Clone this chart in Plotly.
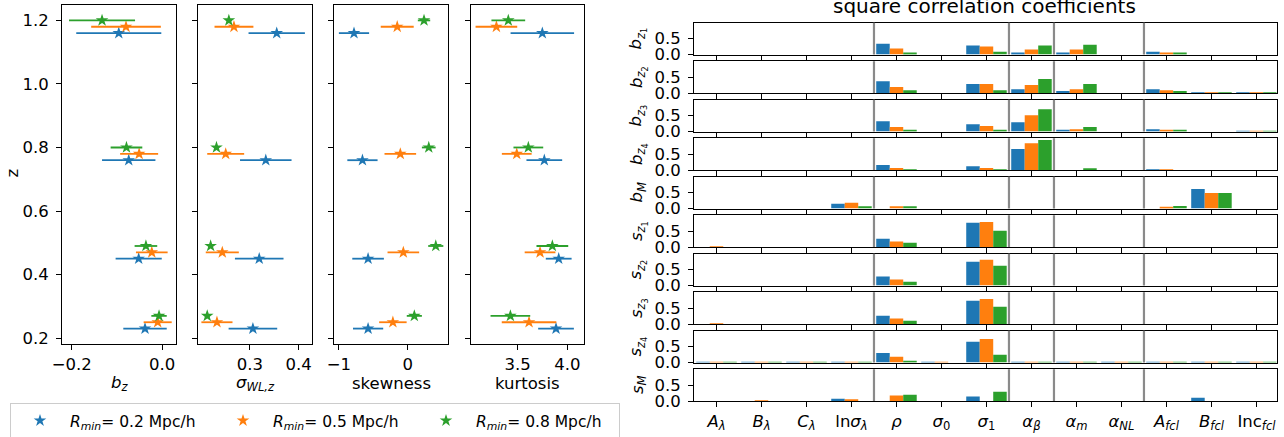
import plotly.graph_objects as go

W, H = 1284, 437
FONT = "DejaVu Sans"
FS = 16.5
C = ["#1f77b4", "#ff7f0e", "#2ca02c"]

# ---------------- left panel data ----------------
series_names = ["<i>R</i><sub><i>min</i></sub>= 0.2 Mpc/h",
                "<i>R</i><sub><i>min</i></sub>= 0.5 Mpc/h",
                "<i>R</i><sub><i>min</i></sub>= 0.8 Mpc/h"]
z_02 = [1.16, 0.76, 0.45, 0.23]
z_05 = [1.18, 0.78, 0.47, 0.25]
z_08 = [1.20, 0.80, 0.49, 0.27]

bz_02 = [-0.096, -0.074, -0.052, -0.038]
bz_02_err = [0.094, 0.059, 0.051, 0.048]
bz_05 = [-0.080, -0.051, -0.023, -0.010]
bz_05_err = [0.077, 0.042, 0.035, 0.031]
bz_08 = [-0.133, -0.079, -0.036, -0.007]
bz_08_err = [0.073, 0.035, 0.025, 0.017]

sig_02 = [0.355, 0.3325, 0.319, 0.306]
sig_02_err = [0.058, 0.053, 0.050, 0.050]
sig_05 = [0.267, 0.250, 0.243, 0.232]
sig_05_err = [0.040, 0.038, 0.034, 0.032]
sig_08 = [0.2565, 0.231, 0.219, 0.212]
sig_08_err = [0.006, 0.005, 0.005, 0.005]

skew_02 = [-0.781, -0.658, -0.576, -0.576]
skew_02_err = [0.22, 0.22, 0.23, 0.22]
skew_05 = [-0.152, -0.107, -0.063, -0.215]
skew_05_err = [0.24, 0.23, 0.23, 0.20]
skew_08 = [0.238, 0.307, 0.409, 0.097]
skew_08_err = [0.09, 0.10, 0.11, 0.11]

kurt_02 = [3.748, 3.768, 3.913, 3.886]
kurt_02_err = [0.32, 0.18, 0.13, 0.18]
kurt_05 = [3.285, 3.490, 3.725, 3.614]
kurt_05_err = [0.21, 0.15, 0.155, 0.275]
kurt_08 = [3.405, 3.607, 3.849, 3.426]
kurt_08_err = [0.17, 0.15, 0.16, 0.20]

left_xlabels = ["<i>b</i><sub><i>z</i></sub>", "<i>σ</i><sub><i>WL,z</i></sub>",
                "skewness", "kurtosis"]
z_ticks = [0.2, 0.4, 0.6, 0.8, 1.0, 1.2]
z_ticktext = ["0.2", "0.4", "0.6", "0.8", "1.0", "1.2"]
bz_ticks = [-0.2, 0.0]
bz_ticktext = ["−0.2", "0.0"]
sig_ticks = [0.3, 0.4]
sig_ticktext = ["0.3", "0.4"]
skew_ticks = [-1, 0]
skew_ticktext = ["−1", "0"]
kurt_ticks = [3.5, 4.0]
kurt_ticktext = ["3.5", "4.0"]

# ---------------- right panel data ----------------
params = ["<i>A<sub>λ</sub></i>", "<i>B<sub>λ</sub></i>", "<i>C<sub>λ</sub></i>",
          "ln<i>σ<sub>λ</sub></i>", "<i>ρ</i>", "<i>σ</i><sub>0</sub>", "<i>σ</i><sub>1</sub>",
          "<i>α<sub>β</sub></i>", "<i>α<sub>m</sub></i>", "<i>α<sub>NL</sub></i>",
          "<i>A<sub>fcl</sub></i>", "<i>B<sub>fcl</sub></i>", "Inc<i><sub>fcl</sub></i>"]
row_labels = ["<i>b</i><sub><i>z</i><sub>1</sub></sub>", "<i>b</i><sub><i>z</i><sub>2</sub></sub>",
              "<i>b</i><sub><i>z</i><sub>3</sub></sub>", "<i>b</i><sub><i>z</i><sub>4</sub></sub>",
              "<i>b<sub>M</sub></i>",
              "<i>s</i><sub><i>z</i><sub>1</sub></sub>", "<i>s</i><sub><i>z</i><sub>2</sub></sub>",
              "<i>s</i><sub><i>z</i><sub>3</sub></sub>", "<i>s</i><sub><i>z</i><sub>4</sub></sub>",
              "<i>s<sub>M</sub></i>"]
title_text = "square correlation coefficients"
#            Al   Bl   Cl  lns  rho  s0   s1   ab   am   aNL  Af   Bf   Inc
bz1_02 = [0, 0, 0, 0, 0.34, 0, 0.28, 0.06, 0.06, 0, 0.09, 0, 0]
bz1_05 = [0, 0, 0, 0, 0.19, 0, 0.25, 0.16, 0.16, 0, 0.06, 0, 0]
bz1_08 = [0, 0, 0, 0, 0.06, 0, 0.09, 0.28, 0.31, 0, 0.06, 0, 0]
bz2_02 = [0, 0, 0, 0, 0.37, 0, 0.28, 0.12, 0.06, 0, 0.12, 0.02, 0.02]
bz2_05 = [0, 0, 0, 0, 0.19, 0, 0.28, 0.25, 0.12, 0, 0.09, 0.01, 0.02]
bz2_08 = [0, 0, 0, 0, 0.09, 0, 0.09, 0.44, 0.28, 0, 0.06, 0.01, 0.02]
bz3_02 = [0, 0, 0, 0, 0.32, 0, 0.23, 0.29, 0.04, 0, 0.07, 0, 0.01]
bz3_05 = [0, 0, 0, 0, 0.14, 0, 0.17, 0.51, 0.07, 0, 0.04, 0, 0.01]
bz3_08 = [0, 0, 0, 0, 0.04, 0, 0.04, 0.70, 0.14, 0, 0.04, 0, 0.01]
bz4_02 = [0, 0, 0, 0, 0.16, 0, 0.12, 0.66, 0, 0, 0.02, 0, 0]
bz4_05 = [0, 0, 0, 0, 0.06, 0, 0.06, 0.84, 0, 0, 0.02, 0, 0]
bz4_08 = [0, 0, 0, 0, 0.01, 0, 0.01, 0.94, 0.03, 0, 0, 0, 0]
bM_02 = [0, 0, 0, 0.15, 0, 0, 0, 0, 0, 0, 0, 0.61, 0]
bM_05 = [0, 0, 0, 0.18, 0.07, 0, 0, 0, 0, 0, 0.03, 0.49, 0]
bM_08 = [0, 0, 0, 0.07, 0.07, 0, 0, 0, 0, 0, 0.08, 0.49, 0]
sz1_02 = [0, 0, 0, 0, 0.26, 0, 0.76, 0, 0, 0, 0, 0, 0]
sz1_05 = [0.02, 0, 0, 0, 0.17, 0, 0.79, 0, 0, 0, 0, 0, 0]
sz1_08 = [0, 0, 0, 0, 0.13, 0, 0.51, 0, 0, 0, 0, 0, 0]
sz2_02 = [0, 0, 0, 0, 0.28, 0, 0.75, 0, 0, 0, 0, 0, 0]
sz2_05 = [0, 0, 0, 0, 0.19, 0, 0.81, 0, 0, 0, 0, 0, 0]
sz2_08 = [0, 0, 0, 0, 0.12, 0, 0.62, 0, 0, 0, 0, 0, 0]
sz3_02 = [0, 0, 0, 0, 0.26, 0, 0.73, 0, 0, 0, 0, 0, 0]
sz3_05 = [0.02, 0, 0, 0, 0.17, 0, 0.79, 0, 0, 0, 0, 0, 0]
sz3_08 = [0, 0, 0, 0, 0.10, 0, 0.54, 0, 0, 0, 0, 0, 0]
sz4_02 = [0.01, 0.01, 0.01, 0.01, 0.30, 0.01, 0.65, 0.01, 0.01, 0.01, 0.01, 0.01, 0.01]
sz4_05 = [0.01, 0.01, 0.01, 0.01, 0.18, 0.01, 0.74, 0.01, 0.01, 0.01, 0.01, 0.01, 0.01]
sz4_08 = [0.01, 0.01, 0.01, 0.01, 0.05, 0, 0.24, 0.01, 0.01, 0.01, 0.01, 0.01, 0.01]
sM_02 = [0, 0, 0, 0.07, 0, 0, 0.14, 0, 0, 0, 0, 0.10, 0]
sM_05 = [0, 0.02, 0, 0.04, 0.17, 0, 0, 0, 0, 0, 0, 0, 0]
sM_08 = [0, 0, 0, 0, 0.20, 0, 0.29, 0, 0, 0, 0, 0, 0]
divider_positions = [3.5, 6.5, 7.5, 9.5]
bar_ticks = [0.0, 0.5]
bar_ticktext = ["0.0", "0.5"]

rows = [(bz1_02, bz1_05, bz1_08), (bz2_02, bz2_05, bz2_08), (bz3_02, bz3_05, bz3_08),
        (bz4_02, bz4_05, bz4_08), (bM_02, bM_05, bM_08), (sz1_02, sz1_05, sz1_08),
        (sz2_02, sz2_05, sz2_08), (sz3_02, sz3_05, sz3_08), (sz4_02, sz4_05, sz4_08),
        (sM_02, sM_05, sM_08)]

# ---------------- helpers ----------------
def px_x(v):
    return v / W

def px_y(v):
    return 1 - v / H

fig = go.Figure()
layout = dict(width=W, height=H, margin=dict(l=0, r=0, t=0, b=0, autoexpand=False),
              paper_bgcolor="white", plot_bgcolor="white",
              font=dict(family=FONT, size=FS, color="black"),
              barmode="group", bargap=0.1, bargroupgap=0,
              showlegend=True)
annotations = []
shapes = []

axis_common = dict(showline=True, mirror=True, linecolor="black", linewidth=1,
                   ticks="outside", ticklen=5, tickwidth=1, tickcolor="black",
                   showgrid=False, zeroline=False, automargin=False,
                   tickfont=dict(family=FONT, size=FS, color="black"))

# left panel
left_x_dom = [(62, 176), (198, 312), (334, 448), (471, 584)]
left_x_rng = [(-0.2215, 0.0305), (0.193, 0.4276), (-1.072, 0.587), (3.029, 4.168)]
left_ticks = [(bz_ticks, bz_ticktext), (sig_ticks, sig_ticktext),
              (skew_ticks, skew_ticktext), (kurt_ticks, kurt_ticktext)]
left_data = [
    [(bz_02, bz_02_err), (bz_05, bz_05_err), (bz_08, bz_08_err)],
    [(sig_02, sig_02_err), (sig_05, sig_05_err), (sig_08, sig_08_err)],
    [(skew_02, skew_02_err), (skew_05, skew_05_err), (skew_08, skew_08_err)],
    [(kurt_02, kurt_02_err), (kurt_05, kurt_05_err), (kurt_08, kurt_08_err)],
]
zs = [z_02, z_05, z_08]
label_centers = [119, 255, 391, 527]

for k in range(4):
    xa = "x" if k == 0 else "x%d" % (k + 1)
    ya = "y" if k == 0 else "y%d" % (k + 1)
    for s in range(3):
        vals, errs = left_data[k][s]
        fig.add_trace(go.Scatter(
            x=vals, y=zs[s], xaxis=xa, yaxis=ya, mode="markers",
            marker=dict(symbol="star", size=9.5, color=C[s], line=dict(width=0)),
            error_x=dict(type="data", array=errs, visible=True, thickness=1.8,
                         width=0, color=C[s]),
            name=series_names[s], showlegend=(k == 0), legendgroup=str(s)))
    xkey = "xaxis" if k == 0 else "xaxis%d" % (k + 1)
    ykey = "yaxis" if k == 0 else "yaxis%d" % (k + 1)
    tv, tt = left_ticks[k]
    layout[xkey] = dict(axis_common, domain=[px_x(left_x_dom[k][0]), px_x(left_x_dom[k][1])],
                        range=list(left_x_rng[k]), anchor=ya, tickmode="array",
                        tickvals=tv, ticktext=tt)
    layout[ykey] = dict(axis_common, domain=[px_y(344), px_y(5)], range=[0.1815, 1.2485],
                        anchor=xa, tickmode="array", tickvals=z_ticks, ticklabelstandoff=4,
                        ticktext=z_ticktext, showticklabels=(k == 0))
    annotations.append(dict(text=left_xlabels[k], x=px_x(label_centers[k]), y=px_y(383),
                            xref="paper", yref="paper", showarrow=False,
                            xanchor="center", yanchor="middle",
                            font=dict(family=FONT, size=FS, color="black")))

annotations.append(dict(text="z", x=px_x(12.5), y=px_y(173), xref="paper", yref="paper",
                        showarrow=False, textangle=-90, xanchor="center", yanchor="middle",
                        font=dict(family=FONT, size=FS, color="black")))

# right panel
rx0, rx1 = 694, 1276.7
cat_idx = list(range(len(params)))
for r in range(10):
    n = 5 + r
    xa, ya = "x%d" % n, "y%d" % n
    top = 22.7 + 38.5 * r
    bot = top + 31.8
    for s in range(3):
        fig.add_trace(go.Bar(x=cat_idx, y=rows[r][s], xaxis=xa, yaxis=ya,
                             marker=dict(color=C[s], line=dict(width=0)),
                             offsetgroup=str(s), showlegend=False, name=series_names[s]))
    layout["xaxis%d" % n] = dict(axis_common, domain=[px_x(rx0), px_x(rx1)],
                                 range=[-0.5, 12.45], anchor=ya, tickmode="array",
                                 tickvals=cat_idx, ticktext=params,
                                 showticklabels=(r == 9))
    layout["yaxis%d" % n] = dict(axis_common, domain=[px_y(bot), px_y(top)],
                                 range=[0, 1.0], anchor=xa, tickmode="array",
                                 ticklabelstandoff=4,
                                 tickvals=bar_ticks, ticktext=bar_ticktext)
    for d in divider_positions:
        shapes.append(dict(type="line", xref=xa, yref="%s domain" % ya, x0=d, x1=d,
                           y0=0, y1=1, line=dict(color="#8a8a8a", width=2.2), layer="above"))
    annotations.append(dict(text=row_labels[r], x=px_x(638), y=px_y((top + bot) / 2),
                            xref="paper", yref="paper", showarrow=False, textangle=-90,
                            xanchor="center", yanchor="middle",
                            font=dict(family=FONT, size=FS, color="black")))

annotations.append(dict(text=title_text, x=px_x(985), y=px_y(20), xref="paper", yref="paper",
                        showarrow=False, xanchor="center", yanchor="bottom",
                        font=dict(family=FONT, size=20, color="black")))

layout["legend"] = dict(orientation="h", x=px_x(10), y=px_y(403), xanchor="left",
                        yanchor="top", bordercolor="#cccccc", borderwidth=1,
                        bgcolor="white", entrywidth=138, itemwidth=50,
                        font=dict(family=FONT, size=15.5, color="black"))
layout["annotations"] = annotations
layout["shapes"] = shapes
fig.update_layout(**layout)
fig.write_html("out.html", config={"displayModeBar": False},
               post_script="document.body.style.margin='0';document.body.style.overflow='hidden';")
